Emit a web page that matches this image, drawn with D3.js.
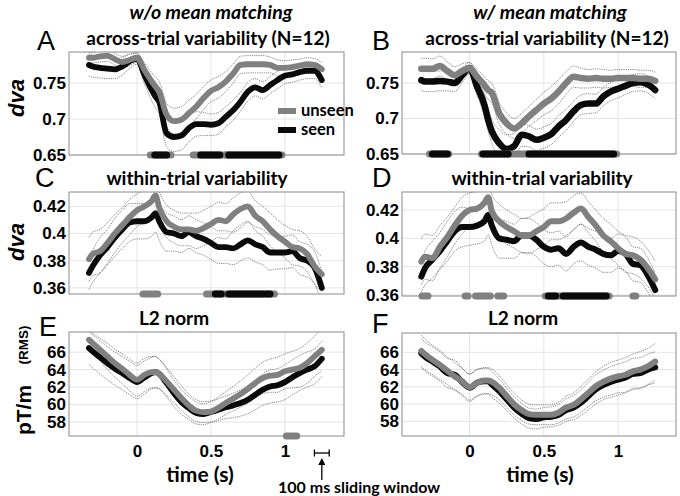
<!DOCTYPE html>
<html><head><meta charset="utf-8">
<script src="https://cdn.jsdelivr.net/npm/d3@7"></script>
<style>body{margin:0;background:#fff}svg{display:block}</style>
</head><body>
<svg id="c" width="680" height="496"></svg>
<script>
// ---------- data ----------
const times = [-0.325,-0.3,-0.25,-0.2,-0.15,-0.1,-0.05,0,0.05,0.1,0.125,0.15,0.2,0.25,0.3,0.35,0.4,0.45,0.5,0.55,0.6,0.65,0.7,0.75,0.8,0.85,0.9,0.95,1.0,1.05,1.1,1.15,1.2,1.25];
const xTicks = [0, 0.5, 1];
const xTickLabels = ["0", "0.5", "1"];
const dvaTicksAB = [0.65, 0.7, 0.75];
const dvaLabelsAB = ["0.65", "0.7", "0.75"];
const dvaTicksCD = [0.36, 0.38, 0.4, 0.42];
const dvaLabelsCD = ["0.36", "0.38", "0.4", "0.42"];
const rmsTicks = [58, 60, 62, 64, 66];
const rmsLabels = ["58", "60", "62", "64", "66"];

// A: across-trial, w/o mean matching
const aUnseen = [0.785,0.785,0.787,0.788,0.783,0.779,0.782,0.785,0.768,0.752,0.745,0.738,0.706,0.697,0.699,0.708,0.717,0.729,0.739,0.744,0.752,0.763,0.775,0.776,0.776,0.776,0.775,0.771,0.771,0.772,0.774,0.776,0.775,0.769];
const aSeen   = [0.775,0.773,0.771,0.770,0.769,0.773,0.780,0.784,0.761,0.740,0.731,0.724,0.680,0.675,0.677,0.687,0.693,0.693,0.692,0.694,0.703,0.712,0.724,0.738,0.744,0.740,0.747,0.754,0.760,0.762,0.765,0.767,0.767,0.754];
const aSemUnseen = [0.007,0.007,0.008,0.008,0.008,0.008,0.008,0.006,0.010,0.012,0.013,0.014,0.016,0.018,0.018,0.018,0.017,0.016,0.015,0.015,0.014,0.013,0.012,0.012,0.012,0.012,0.011,0.011,0.010,0.010,0.009,0.009,0.009,0.009];
const aSemSeen   = [0.015,0.015,0.014,0.014,0.013,0.012,0.010,0.008,0.012,0.015,0.016,0.017,0.019,0.020,0.020,0.019,0.017,0.016,0.015,0.015,0.014,0.014,0.013,0.013,0.012,0.012,0.012,0.012,0.011,0.011,0.011,0.011,0.011,0.011];
const aSigGray  = [[0.09,0.23],[0.38,0.62],[0.60,0.98]];
const aSigBlack = [[0.12,0.20],[0.43,0.56],[0.62,0.96]];

// B: across-trial, w/ mean matching
const bUnseen = [0.770,0.770,0.770,0.774,0.767,0.761,0.767,0.771,0.759,0.747,0.740,0.736,0.707,0.693,0.686,0.693,0.703,0.712,0.721,0.728,0.738,0.750,0.759,0.757,0.756,0.757,0.756,0.756,0.757,0.757,0.757,0.756,0.756,0.753];
const bSeen   = [0.754,0.752,0.752,0.753,0.752,0.750,0.761,0.771,0.745,0.719,0.698,0.682,0.665,0.657,0.661,0.677,0.675,0.670,0.673,0.678,0.689,0.698,0.710,0.719,0.721,0.721,0.731,0.738,0.742,0.746,0.750,0.751,0.748,0.740];
const bSemUnseen = [0.015,0.015,0.014,0.014,0.013,0.012,0.010,0.008,0.010,0.012,0.013,0.014,0.015,0.015,0.014,0.014,0.014,0.015,0.016,0.017,0.017,0.016,0.015,0.014,0.013,0.013,0.013,0.012,0.012,0.012,0.012,0.012,0.012,0.012];
const bSemSeen   = [0.014,0.014,0.014,0.014,0.013,0.012,0.010,0.008,0.012,0.015,0.016,0.017,0.019,0.020,0.018,0.016,0.015,0.015,0.015,0.015,0.015,0.015,0.014,0.014,0.014,0.013,0.013,0.013,0.013,0.012,0.012,0.012,0.012,0.012];
const bSigGray  = [[-0.27,-0.14],[0.08,0.39],[0.39,0.99]];
const bSigBlack = [[-0.25,-0.15],[0.09,0.26],[0.40,0.97]];

// C: within-trial, w/o mean matching
const cUnseen = [0.381,0.385,0.387,0.393,0.400,0.406,0.412,0.417,0.420,0.424,0.428,0.419,0.409,0.405,0.403,0.403,0.402,0.404,0.407,0.410,0.409,0.414,0.418,0.420,0.413,0.409,0.403,0.398,0.394,0.390,0.389,0.385,0.376,0.370];
const cSeen   = [0.371,0.376,0.384,0.390,0.397,0.403,0.408,0.409,0.409,0.412,0.415,0.409,0.401,0.400,0.398,0.401,0.398,0.396,0.393,0.390,0.390,0.389,0.392,0.395,0.392,0.390,0.386,0.386,0.386,0.387,0.382,0.380,0.375,0.360];
const cSemUnseen = [0.016,0.016,0.016,0.015,0.014,0.013,0.013,0.012,0.012,0.012,0.012,0.012,0.012,0.012,0.012,0.012,0.013,0.013,0.013,0.013,0.013,0.012,0.012,0.011,0.011,0.011,0.012,0.012,0.012,0.013,0.013,0.013,0.013,0.013];
const cSemSeen   = [0.012,0.012,0.013,0.013,0.014,0.014,0.014,0.013,0.013,0.014,0.014,0.014,0.014,0.013,0.012,0.012,0.012,0.012,0.012,0.012,0.012,0.012,0.012,0.013,0.013,0.013,0.013,0.012,0.012,0.012,0.012,0.012,0.012,0.012];
const cSigGray  = [[0.04,0.14],[0.47,0.93]];
const cSigBlack = [[0.53,0.57],[0.62,0.85],[0.87,0.90]];

// D: within-trial, w/ mean matching
const dUnseen = [0.3835,0.387,0.386,0.394,0.401,0.409,0.416,0.420,0.421,0.425,0.429,0.419,0.412,0.408,0.405,0.402,0.402,0.405,0.408,0.412,0.412,0.414,0.418,0.421,0.415,0.409,0.402,0.398,0.393,0.389,0.388,0.385,0.379,0.371];
const dSeen   = [0.373,0.379,0.385,0.391,0.398,0.405,0.408,0.408,0.409,0.412,0.4165,0.409,0.400,0.399,0.398,0.402,0.402,0.399,0.394,0.392,0.393,0.389,0.394,0.397,0.394,0.392,0.389,0.388,0.391,0.389,0.382,0.381,0.374,0.3635];
const dSemUnseen = [0.016,0.016,0.016,0.015,0.014,0.013,0.013,0.012,0.012,0.012,0.012,0.012,0.012,0.012,0.012,0.012,0.013,0.013,0.013,0.013,0.013,0.012,0.012,0.011,0.011,0.011,0.012,0.012,0.012,0.013,0.013,0.013,0.013,0.013];
const dSemSeen   = [0.011,0.012,0.013,0.013,0.014,0.014,0.014,0.013,0.013,0.014,0.014,0.014,0.014,0.013,0.012,0.012,0.012,0.012,0.012,0.012,0.012,0.012,0.012,0.013,0.013,0.013,0.013,0.012,0.012,0.012,0.012,0.012,0.012,0.012];
const dSigGray  = [[-0.32,-0.28],[-0.03,-0.01],[0.04,0.14],[0.19,0.23],[0.51,0.60],[0.61,0.94],[1.10,1.12]];
const dSigBlack = [[0.53,0.58],[0.63,0.92]];

// E: L2 norm, w/o mean matching
const eUnseen = [67.41,67.03,66.27,65.5,64.74,64.1,63.4,62.84,63.4,63.7,63.7,63.5,62.65,61.7,60.74,59.9,59.3,59.14,59.2,59.6,60.17,60.67,61.2,61.8,62.46,63.03,63.3,63.4,63.8,64.0,64.2,64.74,65.5,66.27];
const eSeen   = [66.46,66.08,65.4,64.74,64.1,63.6,63.03,62.57,63.1,63.6,63.7,63.5,62.46,61.3,60.3,59.6,59.03,58.9,59.14,59.4,59.68,59.9,60.17,60.55,61.12,61.7,62.07,62.2,62.57,63.1,63.6,64.0,64.36,65.24];
const eSemUnseen = [1.0,1.1,1.3,1.5,1.6,1.7,1.8,1.9,1.9,1.8,1.8,1.7,1.6,1.5,1.4,1.3,1.25,1.2,1.2,1.25,1.3,1.4,1.5,1.6,1.7,1.8,1.9,2.0,2.0,2.1,2.2,2.3,2.3,2.4];
const eSemSeen   = [1.9,1.9,1.9,1.9,1.9,1.9,1.9,1.9,1.9,1.8,1.8,1.7,1.6,1.5,1.4,1.3,1.25,1.2,1.2,1.25,1.3,1.4,1.5,1.6,1.7,1.8,1.9,1.9,2.0,2.0,2.0,2.0,2.0,2.0];
const eSigGray  = [[1.01,1.08]];
const eSigBlack = [];

// F: L2 norm, w/ mean matching
const fUnseen = [66.15,65.77,65.12,64.55,63.87,63.2,62.65,61.96,62.46,62.72,62.72,62.57,61.9,60.93,59.98,59.3,58.84,58.76,58.76,58.76,59.03,59.6,59.9,60.55,61.3,62.07,62.57,62.95,63.2,63.4,63.8,64.0,64.36,64.93];
const fSeen   = [65.9,65.5,64.93,64.36,63.6,63.4,62.57,61.9,62.46,62.65,62.65,62.27,61.5,60.55,59.6,58.9,58.38,58.27,58.46,58.53,58.76,59.3,59.6,60.17,60.93,61.7,62.2,62.57,62.84,63.1,63.5,63.6,64.0,64.25];
const fSemUnseen = [1.8,1.8,1.7,1.7,1.6,1.6,1.5,1.5,1.5,1.5,1.5,1.5,1.4,1.3,1.25,1.2,1.15,1.15,1.15,1.15,1.2,1.3,1.4,1.5,1.6,1.7,1.8,1.9,1.9,2.0,2.0,2.1,2.1,2.1];
const fSemSeen   = [1.7,1.7,1.7,1.7,1.7,1.7,1.6,1.6,1.6,1.5,1.5,1.5,1.4,1.3,1.25,1.2,1.15,1.15,1.15,1.15,1.2,1.3,1.4,1.5,1.6,1.7,1.7,1.8,1.8,1.8,1.8,1.8,1.8,1.8];
const fSigGray  = [];
const fSigBlack = [];

const slidingWindow = [1.2, 1.3];

// ---------- drawing ----------
const svg = d3.select('#c');
const GRAY = '#808080', BLACK = '#0a0a0a';
const TICKFONT = '"Liberation Sans", Arial, sans-serif';
const TXTFONT = 'Lato, "Open Sans", sans-serif';

const panels = [
  {id:'A', l:69, r:344, t:52, b:155, xd:[-0.46,1.40], yd:[0.65,0.793], yt:dvaTicksAB, yl:dvaLabelsAB,
   u:aUnseen, s:aSeen, su:aSemUnseen, ss:aSemSeen, sg:aSigGray, sb:aSigBlack, w:5.8},
  {id:'B', l:402, r:676, t:52, b:154, xd:[-0.455,1.39], yd:[0.65,0.7937], yt:dvaTicksAB, yl:dvaLabelsAB,
   u:bUnseen, s:bSeen, su:bSemUnseen, ss:bSemSeen, sg:bSigGray, sb:bSigBlack, w:6.5},
  {id:'C', l:69, r:344, t:192, b:294, xd:[-0.46,1.40], yd:[0.3555,0.4305], yt:dvaTicksCD, yl:dvaLabelsCD,
   u:cUnseen, s:cSeen, su:cSemUnseen, ss:cSemSeen, sg:cSigGray, sb:cSigBlack, w:5.8},
  {id:'D', l:402, r:676, t:192, b:296, xd:[-0.455,1.39], yd:[0.3593,0.4327], yt:dvaTicksCD, yl:dvaLabelsCD,
   u:dUnseen, s:dSeen, su:dSemUnseen, ss:dSemSeen, sg:dSigGray, sb:dSigBlack, w:6},
  {id:'E', l:69, r:344, t:332, b:436, xd:[-0.46,1.40], yd:[56.4,68.3], yt:rmsTicks, yl:rmsLabels,
   u:eUnseen, s:eSeen, su:eSemUnseen, ss:eSemSeen, sg:eSigGray, sb:eSigBlack, w:5.8, xaxis:true},
  {id:'F', l:402, r:676, t:333, b:436, xd:[-0.455,1.39], yd:[56.3,68.24], yt:rmsTicks, yl:rmsLabels,
   u:fUnseen, s:fSeen, su:fSemUnseen, ss:fSemSeen, sg:fSigGray, sb:fSigBlack, w:6, xaxis:true}
];

const scales = {};
panels.forEach(p => {
  const x = d3.scaleLinear().domain(p.xd).range([p.l, p.r]);
  const y = d3.scaleLinear().domain(p.yd).range([p.b, p.t]);
  scales[p.id] = {x, y};
  const g = svg.append('g');
  const clipId = 'clip' + p.id;
  svg.append('clipPath').attr('id', clipId).append('rect')
    .attr('x', p.l).attr('y', p.t).attr('width', p.r - p.l).attr('height', p.b - p.t);

  // grid
  g.selectAll('line.vg').data(xTicks).join('line').attr('class','vg')
    .attr('x1', d => x(d)).attr('x2', d => x(d)).attr('y1', p.t).attr('y2', p.b)
    .attr('stroke', '#dedede').attr('stroke-width', 0.8);
  g.selectAll('line.hg').data(p.yt).join('line').attr('class','hg')
    .attr('x1', p.l).attr('x2', p.r).attr('y1', d => y(d)).attr('y2', d => y(d))
    .attr('stroke', '#dedede').attr('stroke-width', 0.8);

  const inner = g.append('g').attr('clip-path', `url(#${clipId})`);
  const mk = acc => d3.line().x((d, i) => x(times[i])).y(acc).curve(d3.curveMonotoneX);

  // SEM bands (dotted)
  const bands = [
    p.u.map((v, i) => v + p.su[i]), p.u.map((v, i) => v - p.su[i]),
    p.s.map((v, i) => v + p.ss[i]), p.s.map((v, i) => v - p.ss[i])
  ];
  inner.selectAll('path.band').data(bands).join('path').attr('class','band')
    .attr('d', d => mk(v => y(v))(d))
    .attr('fill', 'none').attr('stroke', '#555').attr('stroke-width', 0.7)
    .attr('stroke-dasharray', '1.2,1');

  // seen (black) then unseen (gray)
  inner.append('path').attr('d', mk(v => y(v))(p.s))
    .attr('fill','none').attr('stroke', BLACK).attr('stroke-width', p.w)
    .attr('stroke-linejoin','round').attr('stroke-linecap','round');
  inner.append('path').attr('d', mk(v => y(v))(p.u))
    .attr('fill','none').attr('stroke', GRAY).attr('stroke-width', p.w)
    .attr('stroke-linejoin','round').attr('stroke-linecap','round');

  // box
  g.append('rect').attr('x', p.l).attr('y', p.t).attr('width', p.r - p.l).attr('height', p.b - p.t)
    .attr('fill','none').attr('stroke','#8a8a8a').attr('stroke-width', 1);

  // significance markers along bottom edge
  g.selectAll('line.sg').data(p.sg).join('line').attr('class','sg')
    .attr('x1', d => x(d[0])).attr('x2', d => x(d[1])).attr('y1', p.b).attr('y2', p.b)
    .attr('stroke', GRAY).attr('stroke-width', 7).attr('stroke-linecap','round');
  g.selectAll('line.sb').data(p.sb).join('line').attr('class','sb')
    .attr('x1', d => x(d[0])).attr('x2', d => x(d[1])).attr('y1', p.b).attr('y2', p.b)
    .attr('stroke', BLACK).attr('stroke-width', 7).attr('stroke-linecap','round');

  // y axis
  const ya = g.append('g').attr('transform', `translate(${p.l},0)`)
    .call(d3.axisLeft(y).tickValues(p.yt).tickSize(0).tickPadding(3).tickFormat((d, i) => p.yl[i]));
  ya.select('.domain').remove();
  ya.selectAll('text').attr('font-family', TICKFONT).attr('font-weight','bold')
    .attr('font-size', 17).attr('fill','#000');

  if (p.xaxis) {
    const xa = g.append('g').attr('transform', `translate(0,${p.b})`)
      .call(d3.axisBottom(x).tickValues(xTicks).tickSize(0).tickPadding(9).tickFormat((d, i) => xTickLabels[i]));
    xa.select('.domain').remove();
    xa.selectAll('text').attr('font-family', TICKFONT).attr('font-weight','bold')
      .attr('font-size', 17).attr('fill','#000');
  }
});

// ---------- text ----------
function txt(x, y, s, o) {
  const t = svg.append('text').attr('x', x).attr('y', y).text(s)
    .attr('font-family', o.ff || TXTFONT).attr('font-size', o.fs)
    .attr('font-weight', o.fw || 'bold').attr('font-style', o.st || 'normal')
    .attr('text-anchor', o.a || 'middle').attr('fill', o.c || '#000');
  if (o.rot) t.attr('transform', `rotate(-90,${x},${y})`);
  return t;
}
// column headings
txt(211, 19, 'w/o mean matching', {fs: 19.5, st: 'italic'});
txt(550, 19, 'w/ mean matching', {fs: 19.5, st: 'italic'});
// panel titles
txt(208, 45, 'across-trial variability (N=12)', {fs: 19});
txt(547, 45, 'across-trial variability (N=12)', {fs: 19});
txt(197, 185, 'within-trial variability', {fs: 19});
txt(542, 185, 'within-trial variability', {fs: 19});
txt(174, 325, 'L2 norm', {fs: 19});
txt(523, 325, 'L2 norm', {fs: 19});
// panel letters
[['A',37,50],['B',372,50],['C',35,187],['D',372,187],['E',39,336],['F',372,333]].forEach(d =>
  txt(d[1], d[2], d[0], {fs: 27, fw: 'normal', ff: TICKFONT, a: 'start'}));
// y labels
txt(24, 98, 'dva', {fs: 22, st: 'italic', ff: TICKFONT, rot: true});
txt(24, 242, 'dva', {fs: 22, st: 'italic', ff: TICKFONT, rot: true});
txt(31, 410, 'pT/m', {fs: 21, ff: TICKFONT, rot: true});
txt(28, 345, '(RMS)', {fs: 13.5, ff: TICKFONT, rot: true});
// x labels
txt(200, 482, 'time (s)', {fs: 21});
txt(540, 482, 'time (s)', {fs: 21});

// legend (panel A)
const leg = [{label:'unseen', c:GRAY, y:111}, {label:'seen', c:BLACK, y:130}];
leg.forEach(d => {
  svg.append('line').attr('x1', 278).attr('x2', 296).attr('y1', d.y).attr('y2', d.y)
    .attr('stroke', d.c).attr('stroke-width', 6);
  txt(301, d.y + 5, d.label, {fs: 16.5, a: 'start'});
});

// sliding window annotation (in panel E time units)
const xe = scales.E.x;
const wy = 453;
svg.append('line').attr('x1', xe(slidingWindow[0])).attr('x2', xe(slidingWindow[1])).attr('y1', wy).attr('y2', wy)
  .attr('stroke', '#000').attr('stroke-width', 1.3);
slidingWindow.forEach(v => svg.append('line').attr('x1', xe(v)).attr('x2', xe(v)).attr('y1', wy - 3.5).attr('y2', wy + 3.5)
  .attr('stroke', '#000').attr('stroke-width', 1.3));
const cx = xe((slidingWindow[0] + slidingWindow[1]) / 2);
svg.append('line').attr('x1', cx).attr('x2', cx).attr('y1', 480).attr('y2', 462).attr('stroke','#000').attr('stroke-width', 1.3);
svg.append('path').attr('d', `M${cx},458 L${cx-3.5},465 L${cx+3.5},465 Z`).attr('fill','#000');
txt(278, 493, '100 ms sliding window', {fs: 16, a: 'start'});
</script>
</body></html>
